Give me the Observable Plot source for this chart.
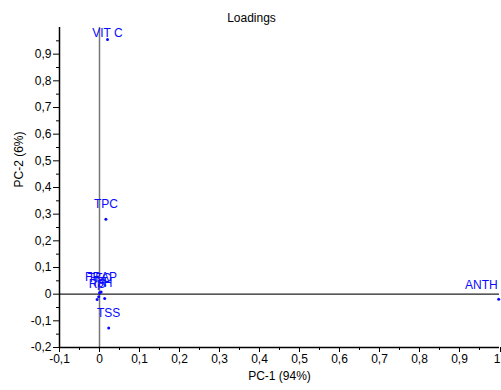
<!DOCTYPE html>
<html>
<head>
<meta charset="utf-8">
<script src="https://cdn.jsdelivr.net/npm/d3@7"></script>
<script src="https://cdn.jsdelivr.net/npm/@observablehq/plot@0.6"></script>
<style>
  html, body { margin: 0; padding: 0; background: #fff; }
  #chart svg { display: block; }
</style>
</head>
<body>
<div id="chart"></div>
<script>
// Loadings data
const variables = ["VIT C", "TPC", "ANTH", "TSS", "FRAP", "TFC", "TA", "RS", "pH"];
const pc1 = [0.020, 0.016, 0.998, 0.023, 0.004, 0.000, -0.002, -0.006, 0.013];
const pc2 = [0.955, 0.281, -0.019, -0.127, 0.008, 0.005, -0.010, -0.020, -0.016];

const xTicks = [-0.1, 0, 0.1, 0.2, 0.3, 0.4, 0.5, 0.6, 0.7, 0.8, 0.9];
const xLastTick = [1.0];
const xMinorTicks = [-0.05, 0.05, 0.15, 0.25, 0.35, 0.45, 0.55, 0.65, 0.75, 0.85, 0.95];
const yTicks = [-0.2, -0.1, 0, 0.1, 0.2, 0.3, 0.4, 0.5, 0.6, 0.7, 0.8, 0.9];
const yMinorTicks = [-0.15, -0.05, 0.05, 0.15, 0.25, 0.35, 0.45, 0.55, 0.65, 0.75, 0.85, 0.95];

const titleText = "Loadings";
const xLabel = "PC-1 (94%)";
const yLabel = "PC-2 (6%)";

const rows = variables.map((v, i) => ({name: v, x: pc1[i], y: pc2[i]}));
const fmt = d => (Math.abs(d) < 1e-9 ? "0" : String(+d.toFixed(1)).replace(".", ","));
const blue = "#0a0aff";

const normalRows = rows.filter(d => d.name !== "VIT C" && d.name !== "ANTH");
const topRows = rows.filter(d => d.name === "VIT C");
const rightRows = rows.filter(d => d.name === "ANTH");

const chart = Plot.plot({
  width: 501,
  height: 390,
  marginLeft: 59,
  marginRight: 2,
  marginTop: 27,
  marginBottom: 43,
  style: {fontFamily: "'Liberation Sans', Arial, sans-serif", fontSize: "12px", color: "#000", background: "#fff"},
  x: {domain: [-0.1, 1.0], label: null},
  y: {domain: [-0.2, 1.0], label: null},
  marks: [
    Plot.axisX({ticks: xTicks, tickFormat: fmt, tickSize: 5, tickPadding: 2, fontSize: 12, stroke: "#000"}),
    Plot.axisX({ticks: xLastTick, tickFormat: fmt, tickSize: 5, tickPadding: 2, fontSize: 12, stroke: "#000", textAnchor: "end", dx: 1}),
    Plot.axisX({ticks: xMinorTicks, tickFormat: () => "", tickSize: 3, stroke: "#000"}),
    Plot.axisY({ticks: yTicks, tickFormat: fmt, tickSize: 6, tickPadding: 2, fontSize: 12, stroke: "#000"}),
    Plot.axisY({ticks: yMinorTicks, tickFormat: () => "", tickSize: 3, stroke: "#000"}),
    Plot.ruleX([0], {stroke: "#777", strokeWidth: 1.5}),
    Plot.ruleY([0], {stroke: "#222", strokeWidth: 1.2}),
    Plot.ruleX([-0.1], {stroke: "#000", strokeWidth: 1.5}),
    Plot.ruleY([-0.2], {stroke: "#000", strokeWidth: 1.5}),
    Plot.dot(rows, {x: "x", y: "y", r: 1.5, fill: blue, stroke: null}),
    Plot.text(normalRows, {x: "x", y: "y", text: "name", dy: -15, fill: blue, fontSize: 12}),
    Plot.text(topRows, {x: "x", y: "y", text: "name", dy: -6, fill: blue, fontSize: 12}),
    Plot.text(rightRows, {x: "x", y: "y", text: "name", dy: -14, dx: -1, textAnchor: "end", fill: blue, fontSize: 12}),
    Plot.text([titleText], {frameAnchor: "top", dy: -14, dx: -28, fontSize: 12, fill: "#000"}),
    Plot.text([xLabel], {frameAnchor: "bottom", dy: 32, fontSize: 12, fill: "#000"}),
    Plot.text([yLabel], {frameAnchor: "left", dx: -40, rotate: -90, fontSize: 12, fill: "#000"})
  ]
});
document.getElementById("chart").appendChild(chart);
</script>
</body>
</html>
